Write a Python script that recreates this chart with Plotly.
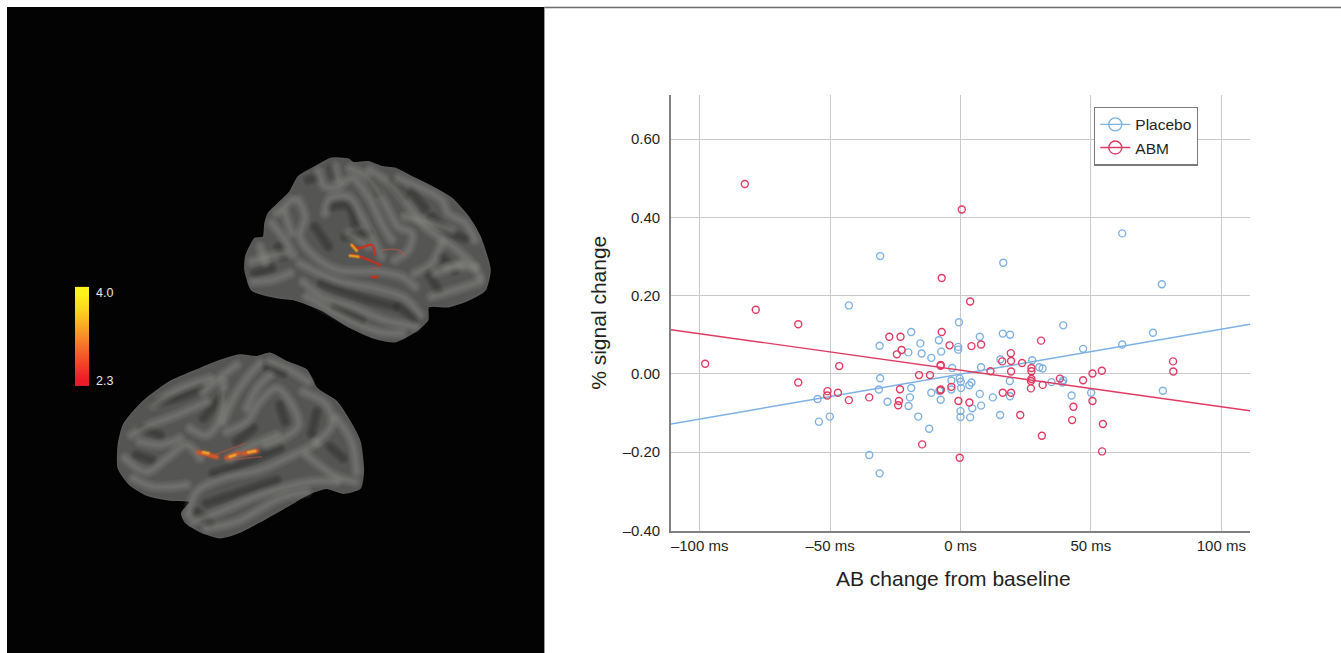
import plotly.graph_objects as go

W, H = 1341, 653
FONT = "Liberation Sans"
BLUE = "#7db1e3"
RED = "#e03a62"

# ---------- data ----------
abm_x = [-82.7,-78.5,-62.2,-97.9,-46.5,-7.2,-7.2,-27.3,-23,-4.2,-22.6,-24.4,-7.6,-7.6,-15.9,-11.7,0.5,3.7,4.2,7.9,30.9,19.3,16,19.4,23.6,11.5,19.4,27.2,27.2,27.2,27,27,31.5,38.1,47,50.6,54.2,81.5,81.6,-3.5,-0.8,3.4,16.2,19.4,22.9,31.2,43.3,42.8,50.6,54.6,54.3,-0.3,-62.2,-51,-51.1,-47,-42.8,-35,-23.2,-23.6,-23.9,-7.6,-7.6,-14.7]
abm_y = [0.485,0.164,0.127,0.026,0.020,0.245,0.107,0.095,0.095,0.073,0.061,0.050,0.023,0.021,-0.003,-0.003,0.420,0.185,0.071,0.075,0.085,0.053,0.032,0.033,0.028,0.007,0.006,0.015,0.007,-0.013,-0.018,-0.037,-0.028,-0.012,-0.016,0.001,0.008,0.032,0.006,-0.033,-0.069,-0.073,-0.048,-0.048,-0.105,-0.158,-0.084,-0.118,-0.069,-0.128,-0.198,-0.214,-0.022,-0.044,-0.055,-0.048,-0.067,-0.060,-0.039,-0.069,-0.080,-0.042,-0.040,-0.180]
placebo_x = [-30.8,-42.8,-0.6,-18.9,-8.3,-31,-15.4,-7.4,-20,-14.9,-11.2,-0.9,-0.9,-3.2,16.4,62,77.2,39.4,73.8,16.2,19,7.4,47,62,15.3,27.5,30.2,31.5,7.9,-3.5,-0.3,0.1,0.2,-3.5,4.2,3.4,7.4,12.4,18.9,19,34.9,39.4,39,42.6,50.1,77.6,0,0,4.5,7.9,3.7,15.2,-54.8,-50.1,-54.3,-30.8,-31.3,-18.9,-19.4,-28,-19.9,-16.2,-12,-35,-31,-11.2,-8.1,-7.6]
placebo_y = [0.301,0.175,0.132,0.107,0.086,0.072,0.078,0.057,0.055,0.052,0.041,0.069,0.062,0.015,0.284,0.359,0.229,0.124,0.105,0.103,0.100,0.095,0.064,0.075,0.037,0.035,0.017,0.014,0.017,-0.017,-0.012,-0.020,-0.036,-0.040,-0.022,-0.029,-0.051,-0.060,-0.018,-0.057,-0.021,-0.016,-0.022,-0.055,-0.048,-0.043,-0.095,-0.110,-0.088,-0.081,-0.111,-0.105,-0.064,-0.109,-0.122,-0.011,-0.040,-0.036,-0.060,-0.071,-0.082,-0.109,-0.140,-0.207,-0.254,-0.048,-0.043,-0.066]
fit_x = [-111, 111]
placebo_fit = [-0.128, 0.127]
abm_fit = [0.113, -0.094]
x_ticks = [-100, -50, 0, 50, 100]
x_labels = ["\u2013100 ms", "\u201350 ms", "0 ms", "50 ms", "100 ms"]
y_ticks = [-0.4, -0.2, 0, 0.2, 0.4, 0.6]
y_labels = ["\u20130.40", "\u20130.20", "0.00", "0.20", "0.40", "0.60"]
stat_scale = [[2.3, 2.3], [2.6, 2.6], [2.9, 2.9], [3.2, 3.2], [3.5, 3.5], [3.8, 3.8], [4.0, 4.0]]

# ---------- brain illustrations, traced in crop coordinates ----------
upper_outline = [(30,510),(32,470),(45,440),(60,415),(85,412),(90,370),(100,340),(130,310),(165,275),(190,230),(250,195),(290,175),(340,178),(355,188),(400,185),(440,200),(480,205),(530,230),(600,265),(650,295),(700,350),(735,410),(765,510),(750,570),(700,600),(640,620),(580,620),(578,660),(540,695),(480,725),(420,715),(340,680),(260,630),(180,600),(140,595),(90,585),(50,570),(30,510)]
upper_gyri = [
 [(195,490),(300,540),(420,565),(510,595),(555,645)],
 [(205,545),(260,590),(350,620),(450,660),(540,680)],
 [(215,590),(320,650),(430,695),(500,700)],
 [(190,300),(210,350),(195,410),(240,470),(310,510),(430,515),(500,530),(540,560)],
 [(110,370),(150,420),(175,465)],
 [(125,340),(170,300)],
 [(270,340),(285,295),(340,290),(380,350),(420,430),(440,470)],
 [(250,215),(270,260),(310,260),(350,235),(400,290),(440,370),(470,420)],
 [(345,205),(400,235),(450,310),(490,380),(530,400),(520,450),(480,480)],
 [(405,210),(470,255),(530,330),(570,380),(640,430),(700,480),(735,530)],
 [(490,235),(560,265),(620,300),(640,340),(690,370),(720,420)],
 [(510,350),(590,370),(650,390)],
 [(540,520),(590,490),(620,430)],
 [(590,590),(660,570),(735,545)],
 [(600,520),(680,490)],
 [(50,485),(100,470),(150,460)],
 [(55,545),(110,540),(165,520)],
 [(75,440),(90,485)],
 [(150,340),(170,400)],
 [(300,200),(310,240)],
 [(340,400),(400,440)],
 [(640,500),(720,500)],
]
upper_sulci = [
 [(220,240),(240,235)],[(290,205),(295,225)],[(290,320),(340,320),(360,370)],
 [(410,240),(430,280)],[(470,245),(510,290)],[(530,275),(570,325)],
 [(590,350),(650,400),(690,415)],[(620,470),(660,510)],[(580,520),(610,570)],
 [(260,550),(370,590),(480,620)],[(60,520),(110,505)],[(130,440),(145,470)],
 [(240,380),(280,440)],[(330,410),(400,400)],[(490,620),(540,655)],[(300,620),(380,660)]]
upper_hot_red = [[(350,435),(370,445),(410,435),(420,465)],[(350,465),(390,475),(435,495)],[(410,531),(428,531)]]
upper_hot_orange = [[(350,435),(365,452)],[(345,467),(370,470)]]
upper_hot_faint = [[(440,450),(490,450),(512,470)],[(410,505),(432,505)]]

lower_outline = [(25,300),(40,240),(70,200),(110,160),(180,110),(260,75),(320,50),(390,30),(440,35),(480,25),(530,50),(590,75),(620,130),(680,170),(720,230),(750,290),(760,380),(750,430),(700,445),(650,430),(590,450),(530,485),(450,530),(380,565),(330,578),(270,560),(225,530),(215,505),(240,470),(180,465),(110,450),(60,420),(25,370),(25,300)]
lower_gyri = [
 [(235,510),(260,440),(340,400),(450,375),(550,330),(620,295)],
 [(250,530),(330,500),(450,450),(600,410),(680,410)],
 [(290,550),(380,530),(510,460),(590,440)],
 [(350,260),(410,230),(450,170),(500,130),(540,170),(565,240),(520,280),(470,300)],
 [(340,230),(370,160),(410,100),(450,55)],
 [(480,50),(540,75),(595,110)],
 [(580,140),(650,180),(665,240),(620,290)],
 [(680,220),(725,290),(740,380)],
 [(290,170),(200,210),(120,240),(65,270)],
 [(300,100),(200,135),(130,180)],
 [(240,250),(290,270),(330,220),(340,110)],
 [(45,340),(110,380),(170,340),(230,300),(270,340)],
 [(70,400),(130,425),(230,420)],
 [(90,290),(150,300),(210,280)],
 [(380,60),(340,90),(280,140)],
 [(590,330),(680,395),(735,410)],
 [(480,90),(440,130),(410,190)],
 [(500,270),(430,300),(360,340)],
]
lower_sulci = [
 [(130,175),(200,160),(270,130)],[(280,220),(340,150)],[(510,180),(525,230)],[(470,65),(520,85)],
 [(95,250),(150,270)],[(310,385),(400,355),(510,310)],[(290,475),(380,445),(500,405)],
 [(260,500),(300,535)],[(620,200),(605,265)],[(660,305),(700,340)],[(430,250),(380,290)],[(80,330),(125,345)]]
lower_hot_orange = [[(265,322),(320,336)],[(350,338),(385,325)],[(400,326),(440,318)]]
lower_hot_yellow = [[(415,322),(435,318)],[(280,322),(295,325)],[(360,335),(375,330)]]
lower_hot_faint = [[(300,335),(345,318),(405,295)],[(360,345),(455,335)]]


def spline(pts, ox, oy, color, width, opacity=1.0):
    return go.Scatter(x=[ox + p[0] / 3 for p in pts], y=[oy + p[1] / 3 for p in pts],
                      mode="lines+markers", line=dict(color=color, width=width, shape="spline", smoothing=1.0),
                      marker=dict(color=color, size=width, line=dict(width=0)),
                      opacity=opacity, hoverinfo="skip", showlegend=False, xaxis="x2", yaxis="y2")


def brain(outline, gyri, sulci, ox, oy):
    out = [go.Scatter(x=[ox + p[0] / 3 for p in outline], y=[oy + p[1] / 3 for p in outline],
                      mode="lines", fill="toself", fillcolor="#555554",
                      line=dict(color="#5a5a58", width=1.5, shape="spline", smoothing=0.6),
                      hoverinfo="skip", showlegend=False, xaxis="x2", yaxis="y2")]
    for seg in sulci:
        for w in (12, 9, 6, 3):
            out.append(spline(seg, ox, oy, "#2c2c2c", w, 0.16))
    for seg in gyri:
        for w in (13, 10, 7, 4.5, 2.5):
            out.append(spline(seg, ox, oy, "#92928d", w, 0.11))
    return out


def hotspot(seg, ox, oy, color, core):
    res = []
    for w, a in ((core * 2.5, 0.2), (core * 1.7, 0.3), (core, 0.85)):
        res.append(spline(seg, ox, oy, color, w, a))
    return res


fig = go.Figure()

for tr in brain(upper_outline, upper_gyri, upper_sulci, 235, 100):
    fig.add_trace(tr)
for seg in upper_hot_faint:
    fig.add_trace(spline(seg, 235, 100, "#c85a42", 1.5, 0.5))
for seg in upper_hot_red:
    for tr in hotspot(seg, 235, 100, "#d82a16", 1.4):
        fig.add_trace(tr)
for seg in upper_hot_orange:
    for tr in hotspot(seg, 235, 100, "#f0a020", 1.8):
        fig.add_trace(tr)
for tr in brain(lower_outline, lower_gyri, lower_sulci, 110, 345):
    fig.add_trace(tr)
for seg in lower_hot_faint:
    fig.add_trace(spline(seg, 110, 345, "#c8553c", 1.5, 0.5))
for seg in lower_hot_orange:
    for tr in hotspot(seg, 110, 345, "#d9562a", 3):
        fig.add_trace(tr)
for seg in lower_hot_yellow:
    for tr in hotspot(seg, 110, 345, "#f0a82c", 2):
        fig.add_trace(tr)

fig.add_trace(go.Heatmap(
    z=stat_scale, x=[78.5, 85.5], y=[379, 364.8, 350.6, 336.5, 322.4, 308.2, 294],
    colorscale=[[0, "#ee1c25"], [0.5, "#f7842a"], [1, "#fff21a"]], showscale=False,
    hoverinfo="skip", xaxis="x2", yaxis="y2", zsmooth="best"))

marker_common = dict(symbol="circle-open", size=7)
fig.add_trace(go.Scatter(x=fit_x, y=placebo_fit, mode="lines", line=dict(color=BLUE, width=1.4),
                         showlegend=False, hoverinfo="skip"))
fig.add_trace(go.Scatter(x=placebo_x, y=placebo_y, mode="markers", showlegend=False,
                         marker=dict(color=BLUE, line=dict(width=1.4, color=BLUE), **marker_common)))
fig.add_trace(go.Scatter(x=fit_x, y=abm_fit, mode="lines", line=dict(color=RED, width=1.4),
                         showlegend=False, hoverinfo="skip"))
fig.add_trace(go.Scatter(x=abm_x, y=abm_y, mode="markers", showlegend=False,
                         marker=dict(color=RED, line=dict(width=1.4, color=RED), **marker_common)))
for name, col in (("Placebo", BLUE), ("ABM", RED)):
    fig.add_trace(go.Scatter(x=[None], y=[None], name=name, mode="lines+markers",
                             line=dict(color=col, width=1.4),
                             marker=dict(symbol="circle-open", size=13, color=col, line=dict(width=1.4, color=col))))

fig.update_layout(
    autosize=False, width=W, height=H, margin=dict(l=0, r=0, t=0, b=0, autoexpand=False),
    paper_bgcolor="white", plot_bgcolor="rgba(0,0,0,0)",
    font=dict(family=FONT, size=15, color="#231f20"),
    xaxis=dict(domain=[671 / W, 1250 / W], range=[-111, 111], tickvals=x_ticks, ticktext=x_labels,
               showgrid=True, gridcolor="#c9c9c9", gridwidth=1.4, zeroline=False,
               showline=True, linecolor="#808080", linewidth=1.6, ticks="", ticklabelstandoff=1,
               tickfont=dict(size=15)),
    yaxis=dict(domain=[1 - 530.5 / H, 1 - 95 / H], range=[-0.4, 0.7125], tickvals=y_ticks, ticktext=y_labels,
               showgrid=True, gridcolor="#c9c9c9", gridwidth=1.4, zeroline=False,
               showline=True, linecolor="#808080", linewidth=1.6, ticks="", ticklabelstandoff=6,
               tickfont=dict(size=15),
               title=dict(text="% signal change", font=dict(size=21), standoff=10)),
    xaxis2=dict(domain=[0, 1], range=[0, W], visible=False, anchor="y2", fixedrange=True),
    yaxis2=dict(domain=[0, 1], range=[H, 0], visible=False, anchor="x2", fixedrange=True),
    legend=dict(x=1094 / W, y=1 - 106.5 / H, xanchor="left", yanchor="top", bgcolor="white",
                bordercolor="#7a7a7a", borderwidth=1.3, font=dict(size=15.5), itemwidth=30,
                tracegroupgap=0, itemclick=False, itemdoubleclick=False),
    shapes=[
        dict(type="rect", xref="paper", yref="paper", x0=7 / W, x1=544 / W, y0=0, y1=1 - 7 / H,
             fillcolor="#030303", line=dict(width=0), layer="below"),
        dict(type="line", xref="paper", yref="paper", x0=544 / W, x1=1, y0=1 - 7.5 / H, y1=1 - 7.5 / H,
             line=dict(color="#6d6d6d", width=1.5), layer="below"),
        dict(type="line", xref="paper", yref="paper", x0=544.5 / W, x1=544.5 / W, y0=0, y1=1 - 7.5 / H,
             line=dict(color="#9a9a9a", width=1), layer="below"),
    ],
    annotations=[
        dict(text="AB change from baseline", x=953 / W, y=1 - 578 / H, xref="paper", yref="paper",
             xanchor="center", yanchor="middle", showarrow=False, font=dict(size=21)),
        dict(text="4.0", x=94 / W, y=1 - 293 / H, xref="paper", yref="paper", xanchor="left",
             yanchor="middle", showarrow=False, font=dict(size=12.5, color="#e8e8e8")),
        dict(text="2.3", x=94 / W, y=1 - 381 / H, xref="paper", yref="paper", xanchor="left",
             yanchor="middle", showarrow=False, font=dict(size=12.5, color="#e8e8e8")),
    ],
)

fig.write_html("out.html", config={"displayModeBar": False},
               post_script="document.body.style.margin='0';document.body.style.overflow='hidden';")
